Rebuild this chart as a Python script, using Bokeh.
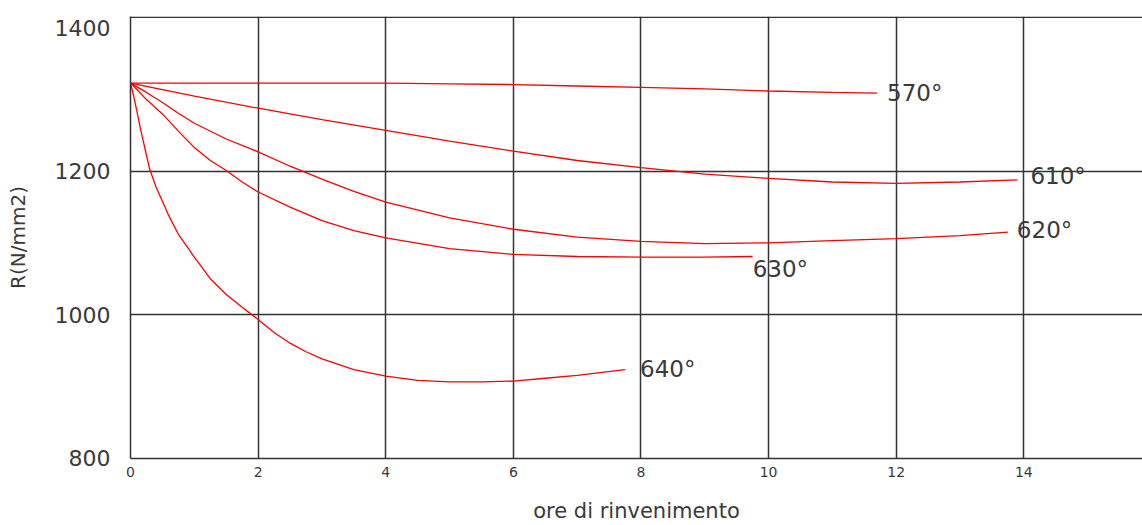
from bokeh.plotting import figure
from bokeh.models import FixedTicker, Span, Range1d
from bokeh.core.properties import value
from bokeh.embed import file_html
from bokeh.resources import INLINE

# ---- data ----
x_ticks = [0, 2, 4, 6, 8, 10, 12, 14]
y_ticks = [800, 1000, 1200, 1400]
y_grid = [1000, 1200]

hours_570 = [0, 1, 2, 3, 4, 5, 6, 7, 8, 9, 10, 11, 11.7]
r_570 = [1323, 1323, 1323, 1323, 1323, 1322, 1321, 1319, 1317, 1315, 1312, 1310, 1309]

hours_610 = [0, 1, 2, 3, 4, 5, 6, 7, 8, 9, 10, 11, 12, 13, 13.9]
r_610 = [1323, 1305, 1288, 1272, 1257, 1242, 1228, 1215, 1205, 1196, 1190, 1185, 1183, 1185, 1188]

hours_620 = [0, 0.25, 0.5, 0.75, 1, 1.5, 2, 2.5, 3, 3.5, 4, 5, 6, 7, 8, 9, 10, 11, 12, 13, 13.75]
r_620 = [1323, 1310, 1296, 1281, 1267, 1245, 1227, 1207, 1189, 1172, 1157, 1135, 1119, 1108, 1102,
         1099, 1100, 1103, 1106, 1110, 1115]

hours_630 = [0, 0.1, 0.25, 0.5, 0.75, 1, 1.25, 1.5, 1.75, 2, 2.5, 3, 3.5, 4, 5, 6, 7, 8, 9, 9.75]
r_630 = [1323, 1314, 1300, 1280, 1256, 1233, 1215, 1201, 1185, 1171, 1150, 1131, 1117, 1107, 1092,
         1084, 1081, 1080, 1080, 1081]

hours_640 = [0, 0.05, 0.1, 0.15, 0.2, 0.3, 0.4, 0.5, 0.6, 0.75, 0.9, 1, 1.25, 1.5, 1.75, 2, 2.25,
             2.5, 2.75, 3, 3.5, 4, 4.5, 5, 5.5, 6, 6.5, 7, 7.75]
r_640 = [1323, 1305, 1284, 1262, 1242, 1203, 1178, 1158, 1138, 1112, 1093, 1080, 1050, 1028, 1010,
         993, 975, 960, 948, 938, 923, 914, 908, 906, 906, 907, 911, 915, 923]

labels = ["570°", "610°", "620°", "630°", "640°"]
series = [(hours_570, r_570), (hours_610, r_610), (hours_620, r_620),
          (hours_630, r_630), (hours_640, r_640)]

x_label = "ore di rinvenimento"
y_label = "R(N/mm2)"

# ---- styles ----
FONT = "DejaVu Sans"
TXT = "#3a3a3a"
GRID = "#333333"
label_offsets = [(10, 0), (13, -4), (9, -2), (0, 13), (15, -1)]

p = figure(width=1142, height=525,
           x_range=Range1d(0, 15.86), y_range=Range1d(799, 1416),
           output_backend="svg", toolbar_location=None,
           min_border_left=130, min_border_right=0,
           min_border_top=16, min_border_bottom=65)
p.outline_line_color = None
p.background_fill_color = "white"
p.border_fill_color = "white"

# axes
p.xaxis.ticker = FixedTicker(ticks=x_ticks)
p.yaxis.ticker = FixedTicker(ticks=y_ticks)
for ax in (p.xaxis, p.yaxis):
    ax.major_tick_line_color = None
    ax.minor_tick_line_color = None
    ax.axis_line_color = GRID
    ax.axis_line_width = 1.5
    ax.major_label_text_font = FONT
    ax.major_label_text_color = TXT
    ax.axis_label_text_font = FONT
    ax.axis_label_text_color = TXT
    ax.axis_label_text_font_style = "normal"

p.xaxis.major_label_text_font_size = "14px"
p.xaxis.major_label_standoff = 2
p.xaxis.axis_label = x_label
p.xaxis.axis_label_text_font_size = "21px"
p.xaxis.axis_label_standoff = 19

p.yaxis.major_label_text_font_size = "22px"
p.yaxis.major_label_standoff = 14
p.yaxis.axis_label = y_label
p.yaxis.axis_label_text_font_size = "20px"
p.yaxis.axis_label_standoff = 22

# grid
p.xgrid.ticker = FixedTicker(ticks=x_ticks[1:])
p.ygrid.ticker = FixedTicker(ticks=y_grid)
for g in (p.xgrid, p.ygrid):
    g.grid_line_color = GRID
    g.grid_line_width = 1.5
    g.grid_line_alpha = 1.0

# top border line
p.add_layout(Span(location=1415, dimension="width", line_color=GRID, line_width=1.5))

# curves and their labels
for (xs, ys), lab, (dx, dy) in zip(series, labels, label_offsets):
    p.line(xs, ys, line_color="#ff0000", line_width=1.3)
    p.text(x=[xs[-1]], y=[ys[-1]], text=[lab], x_offset=dx, y_offset=dy,
           text_font=value(FONT), text_font_size="23px", text_color=TXT,
           text_baseline="middle", text_align="left")

open("out.html", "w").write(file_html(p, INLINE))
